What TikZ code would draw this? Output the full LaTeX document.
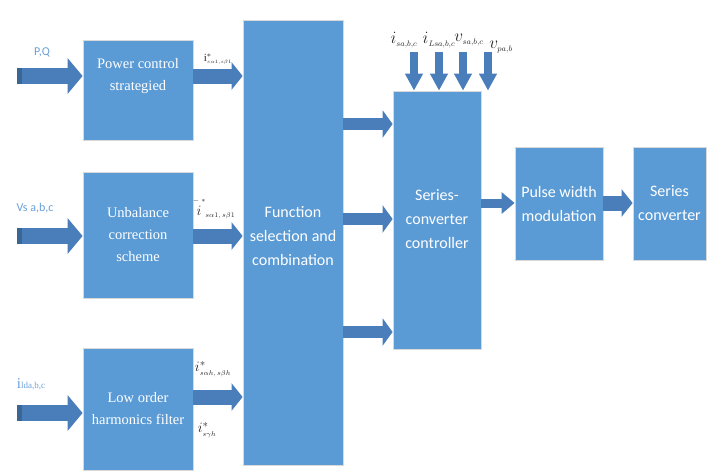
\documentclass[tikz,border=0pt]{standalone}
\usepackage{amsmath}
\usepackage{fontspec}
\setmainfont{Liberation Serif}
\newfontfamily\calfont{Carlito}
\usetikzlibrary{arrows.meta}
\definecolor{boxblue}{HTML}{5B9BD5}
\definecolor{arrblue}{HTML}{4A7EBB}
\definecolor{stripblue}{HTML}{3A6594}
\definecolor{lblblue}{HTML}{6A9FD8}
\tikzset{
  blk/.style={draw=black!15, line width=0.8pt, fill=boxblue, text=white, align=center, inner sep=0pt},
  serifbox/.style={font=\fontsize{14.5}{22}\selectfont},
  sansbox/.style={font=\calfont\fontsize{16}{24}\selectfont},
  txt/.style={text=white, align=center, inner sep=0pt},
  inarrow/.style={draw=arrblue, line width=16pt, -{Triangle[width=35pt,length=15pt]}},
  outarrow/.style={draw=arrblue, line width=15pt, -{Triangle[width=27pt,length=11pt]}},
  midarrow/.style={draw=arrblue, line width=12pt, -{Triangle[width=27pt,length=10pt]}},
  smallarrow/.style={draw=arrblue, line width=9pt, -{Triangle[width=21pt,length=13pt]}},
  downarrow/.style={draw=arrblue, line width=8pt, -{Triangle[width=17pt,length=17pt]}},
  inlbl/.style={text=lblblue, inner sep=0pt},
  mlbl/.style={text=black!85, inner sep=0pt},
}
\begin{document}
\begin{tikzpicture}[x=1pt,y=-1pt]
\useasboundingbox (0,0) rectangle (712,472);
% boxes
\node[blk, minimum width=110pt, minimum height=100pt] (pc) at (138,90) {};
\node[txt, serifbox] (pctxt) at (138,76) {Power control\\strategied};
\node[blk, serifbox, minimum width=110pt, minimum height=126pt] (ub) at (138,235) {Unbalance\\correction\\scheme};
\node[blk, serifbox, minimum width=110pt, minimum height=122pt] (lo) at (138,409) {Low order\\harmonics filter};
\node[blk, sansbox, minimum width=100pt, minimum height=445pt] (fs) at (293,242.5) {};
\node[txt, sansbox] (fstxt) at (293,236) {Function\\selection and\\combination};
\node[blk, sansbox, minimum width=88pt, minimum height=258pt] (ctrl) at (437,220) {};
\node[txt, sansbox] (ctrltxt) at (437,219) {Series-\\converter\\controller};
\node[blk, sansbox, minimum width=88pt, minimum height=113pt] (pwm) at (559,203.5) {Pulse width\\modulation};
\node[blk, sansbox, minimum width=73pt, minimum height=113pt] (sc) at (669.5,203.5) {Series\\converter};

% input arrows
\coordinate (pq) at (17,76);
\coordinate (vs) at (17,236);
\coordinate (il) at (17,413);
\draw[inarrow] (pq) -- (pq -| pc.west);
\draw[inarrow] (vs) -- (vs -| ub.west);
\draw[inarrow] (il) -- (il -| lo.west);
\foreach \c in {pq,vs,il}{
  \fill[stripblue] ([yshift=-8pt]\c) rectangle ([xshift=5pt,yshift=8pt]\c);
}
\node[inlbl, font=\calfont\fontsize{12}{12}\selectfont] (pqlbl) at (42,52) {P,Q};
\node[inlbl, font=\calfont\fontsize{12}{12}\selectfont] (vslbl) at (35,208) {Vs a,b,c};
\node[inlbl] (illbl) at (31,384) {{\fontsize{15}{15}\selectfont i}{\fontsize{9}{9}\selectfont lda,b,c}};

% outputs of left boxes
\coordinate (o1) at (193,76);
\coordinate (o2) at (193,236);
\coordinate (o3) at (193,397);
\draw[outarrow] (o1) -- (o1 -| fs.west);
\draw[outarrow] (o2) -- (o2 -| fs.west);
\draw[outarrow] (o3) -- (o3 -| fs.west);
\node[mlbl, font=\fontsize{11}{11}\selectfont] (l1) at (218,59) {$\mathrm{i}^{*}_{\scriptscriptstyle s\alpha1,s\beta1}$};
\node[mlbl, font=\fontsize{15}{15}\selectfont] (l2) at (214,208) {$\overset{\scriptscriptstyle -\;*}{i}_{\scriptscriptstyle s\alpha1,\,s\beta1}$};
\node[mlbl, font=\fontsize{15}{15}\selectfont] (l3) at (213,369) {$i^{*}_{\scriptscriptstyle s\alpha h,\,s\beta h}$};
\node[mlbl, font=\fontsize{15}{15}\selectfont] (l4) at (207,430) {$i^{*}_{\scriptscriptstyle s\gamma h}$};

% function -> controller
\coordinate (f1) at (343,124);
\coordinate (f2) at (343,219);
\coordinate (f3) at (343,332);
\draw[midarrow] (f1) -- (f1 -| ctrl.west);
\draw[midarrow] (f2) -- (f2 -| ctrl.west);
\draw[midarrow] (f3) -- (f3 -| ctrl.west);

% controller -> pwm -> sc
\coordinate (c1) at (481,203);
\draw[smallarrow] (c1) -- (c1 -| pwm.west);
\coordinate (p1) at (603,203);
\draw[outarrow] (p1) -- (p1 -| sc.west);

% down arrows
\coordinate (d1) at (414,52);
\coordinate (d2) at (439,52);
\coordinate (d3) at (463,52);
\coordinate (d4) at (488,52);
\foreach \d in {d1,d2,d3,d4}{
  \draw[downarrow] (\d) -- (\d |- ctrl.north);
}
\node[mlbl, font=\fontsize{17}{17}\selectfont] (t1) at (404,40) {$i_{\scriptscriptstyle sa,b,c}$};
\node[mlbl, font=\fontsize{17}{17}\selectfont] (t2) at (439,40) {$i_{\scriptscriptstyle Lsa,b,c}$};
\node[mlbl, font=\fontsize{17}{17}\selectfont] (t3) at (469,40) {$v_{\scriptscriptstyle sa,b,c}$};
\node[mlbl, font=\fontsize{17}{17}\selectfont] (t4) at (501,47) {$v_{\scriptscriptstyle pa,b}$};
\end{tikzpicture}
\end{document}
